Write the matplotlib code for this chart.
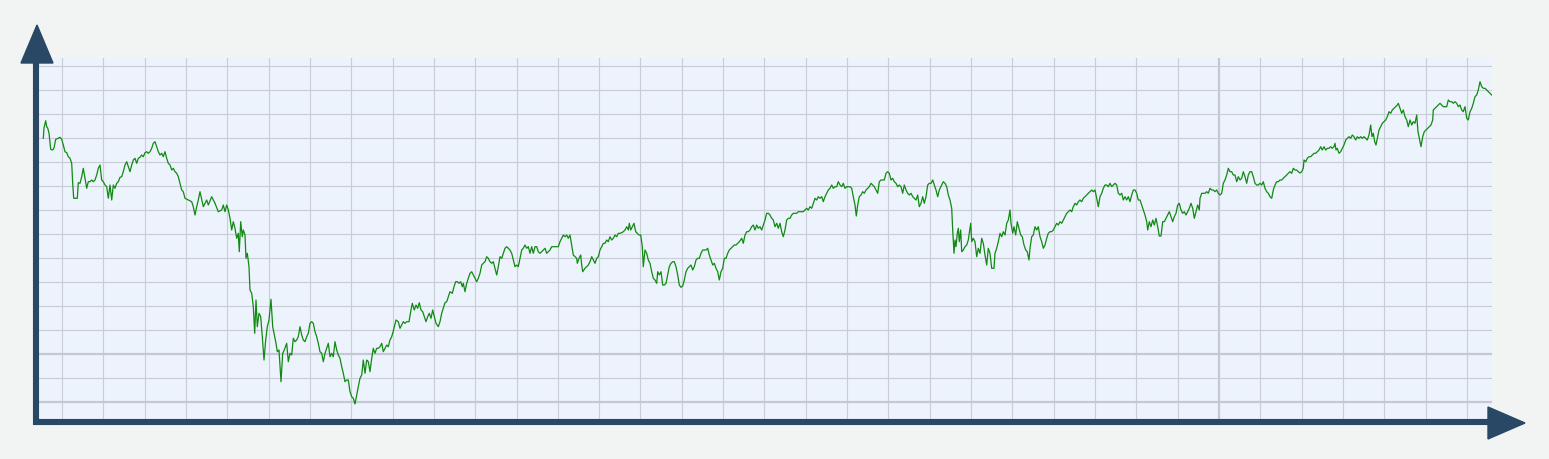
import matplotlib
matplotlib.use("Agg")
import matplotlib.pyplot as plt
from matplotlib.patches import Polygon

# time position of each sample along the chart
t = [
    43.3, 44.0, 45.7, 46.7, 47.7, 49.0, 50.7, 52.7, 54.0, 55.7, 58.3, 60.0, 61.7, 63.3, 65.0, 66.7,
    68.3, 70.0, 71.7, 72.7, 73.7, 76.0, 77.3, 78.3, 80.0, 81.7, 83.3, 85.0, 86.7, 88.3, 90.0, 91.7,
    93.3, 95.0, 96.7, 98.3, 100.0, 101.7, 103.3, 105.0, 106.7, 108.3, 110.0, 111.7, 113.3, 115.0,
    116.7, 118.3, 120.0, 121.7, 123.3, 125.0, 126.7, 128.3, 130.0, 131.7, 133.3, 135.0, 136.7,
    138.3, 140.0, 141.7, 143.3, 145.0, 146.7, 148.3, 150.0, 151.7, 153.3, 155.0, 156.7, 158.3,
    160.0, 161.7, 163.3, 165.0, 166.7, 168.3, 170.0, 171.7, 173.3, 175.0, 176.7, 178.3, 180.0,
    181.7, 183.3, 185.0, 188.3, 191.7, 193.3, 195.0, 196.7, 198.3, 200.0,
    203.3, 206.7, 208.3, 211.7, 215.0, 218.3, 221.7, 223.3, 225.0, 226.7, 228.3, 230.0, 231.7,
    233.3, 235.0, 236.7, 238.3, 239.3, 240.7, 242.3, 243.3, 245.0, 246.0, 247.3, 249.0, 250.0,
    251.7, 253.3, 254.7, 256.0, 257.3, 259.0, 260.7, 262.3, 264.0, 265.7, 267.3, 269.0, 271.0,
    272.7, 274.0, 276.0, 277.3, 279.0, 281.0, 282.7, 284.3, 286.7, 288.3, 290.0, 291.7, 293.3,
    295.0, 296.7, 298.3, 300.0, 301.7, 303.3, 305.0, 306.7, 308.3, 310.0, 311.7, 313.3, 315.0,
    316.7, 318.3, 320.0, 321.7, 323.3, 325.0, 326.7, 328.3, 330.0, 331.7, 333.3, 335.0, 336.7,
    338.3, 340.0, 341.7, 343.3, 345.0, 346.7, 348.3, 350.0, 351.7, 353.3, 355.0, 356.7, 358.3,
    360.0, 361.7, 363.3, 365.0, 366.7, 368.3, 370.0, 371.7, 373.3, 375.0, 376.7, 378.3, 380.0,
    381.7, 383.3, 385.0, 386.7, 388.3, 390.0, 391.7, 393.3,
    396.0, 398.3, 400.0, 401.7, 403.3, 405.0, 406.7, 409.0, 410.7, 412.3, 414.3, 416.0, 417.7,
    419.3, 421.0, 422.7, 424.3, 426.0, 427.7, 429.3, 431.0, 432.7, 434.3, 436.0, 438.3, 440.0,
    441.7, 443.3, 445.0, 446.7, 448.3, 450.0, 452.3, 454.0, 455.7, 457.3, 459.0, 460.7, 462.3,
    463.3, 465.0, 466.7, 468.3, 470.0, 471.7, 473.3, 475.0, 476.7, 478.3, 480.0, 481.7, 483.3,
    485.0, 486.7, 488.3, 490.0, 491.7, 493.3, 495.0, 496.7, 498.3, 500.0, 501.7, 503.3, 505.0,
    506.7, 508.3, 510.0, 511.7, 513.3, 515.0, 516.7, 518.3, 520.0, 521.7, 523.3, 525.0, 526.7,
    528.3, 530.0, 531.7, 533.3, 535.0, 536.7, 538.3, 540.0, 541.7, 543.3, 545.0, 546.7, 548.3,
    550.0, 551.7, 553.3, 556.7, 558.3, 560.0, 561.7, 563.3, 565.0, 566.7, 568.3, 570.0, 571.7,
    573.3, 575.0, 576.7, 577.3, 579.0, 580.7, 581.7, 582.7, 585.0, 586.7, 588.3, 590.0, 591.7,
    593.3, 595.0, 596.7, 598.3, 600.0, 601.7, 603.3, 605.0, 606.7, 608.3, 610.0, 611.7, 613.3,
    615.0, 616.7, 618.3, 620.0, 621.7, 623.3, 625.0, 626.7, 628.3, 629.3, 630.7, 632.3, 634.0,
    635.7, 637.3, 639.0, 640.7, 642.3, 643.3, 645.0, 646.7, 648.3, 650.0, 651.7, 653.3, 655.0,
    656.7, 657.7, 659.3, 661.0, 662.7, 664.3, 666.0, 667.7, 669.3, 671.0, 672.7, 674.3, 676.0,
    677.7, 679.3, 681.0, 682.7, 684.3, 686.0, 687.7, 689.3, 691.0, 692.7, 694.3, 696.0, 697.7,
    699.3, 701.0, 702.7, 704.3, 706.0, 707.7, 709.3, 711.0, 712.7, 714.3, 716.0, 717.7, 719.3,
    721.0, 722.7, 724.3, 726.0, 727.7, 729.3, 731.0, 732.7, 734.3, 736.0, 737.7, 739.3,
    741.7, 743.3, 745.0, 746.7, 748.3, 750.0, 751.7, 753.3, 755.0, 756.7, 758.3, 760.0, 761.7,
    763.3, 765.0, 766.7, 768.3, 770.0, 771.7, 773.3, 775.0, 776.7, 778.3, 780.0, 781.7, 783.3,
    785.0, 786.7, 788.3, 790.0, 791.7, 793.3, 795.0, 796.7, 798.3, 800.0, 803.3, 805.0, 806.7,
    808.3, 810.0, 811.7, 813.3, 815.0, 816.7, 818.3, 820.0, 821.7, 823.3, 825.0, 826.7, 828.3,
    830.0, 831.7, 833.3, 835.0, 836.7, 838.3, 840.0, 841.7, 843.3, 845.0, 846.7, 848.3, 850.0,
    851.7, 853.3, 855.0, 856.3, 857.7, 859.3, 861.0, 862.7, 864.3, 866.0, 867.7, 869.3, 871.0,
    872.7, 874.3, 876.0, 877.7, 879.3, 881.0, 882.7, 884.3, 886.0, 887.7, 889.3, 891.0, 892.7,
    894.3, 896.0, 897.7, 899.3, 901.0, 902.7, 904.3, 906.0, 907.7, 909.3, 911.0, 912.7, 914.3,
    916.0, 917.7, 919.3, 921.0, 922.7, 924.3, 926.0, 927.7, 929.3, 931.0, 932.7, 934.3, 936.0,
    937.7, 939.3,
    941.7, 943.3, 945.0, 946.7, 948.3, 950.0, 951.7, 952.7, 954.0, 955.0, 956.0, 957.3, 958.3,
    959.3, 960.7, 961.7, 963.3, 965.0, 966.7, 968.3, 969.3, 970.7, 971.7, 973.3, 975.0, 976.7,
    978.3, 980.0, 981.7, 983.3, 985.0, 986.7, 988.3, 990.0, 991.7, 994.0, 995.0, 996.7, 998.3,
    1000.0, 1001.7, 1003.3, 1005.0, 1006.7, 1008.3, 1010.0, 1011.0, 1012.7, 1014.0, 1015.7,
    1017.3, 1019.0, 1020.7, 1022.3, 1024.0, 1025.7, 1027.3, 1029.0, 1030.0, 1031.7, 1033.3,
    1035.0, 1036.7, 1038.3, 1040.0, 1041.7, 1043.3, 1045.0, 1046.7, 1048.3, 1050.0, 1051.7,
    1053.3, 1055.0, 1056.7, 1058.3, 1060.0, 1061.7, 1063.3, 1065.0, 1066.7, 1068.3, 1070.0,
    1071.7, 1073.3, 1075.0, 1076.7, 1078.3, 1080.0, 1081.7, 1083.3, 1085.0, 1086.7, 1088.3,
    1090.0, 1091.7, 1093.3, 1095.0, 1096.7, 1098.3, 1100.0, 1101.7, 1103.3, 1105.0, 1106.7,
    1108.3, 1110.0, 1111.7, 1113.3, 1115.0, 1116.7, 1118.3, 1120.0,
    1121.7, 1123.3, 1125.0, 1126.7, 1128.3, 1130.0, 1131.7, 1133.3, 1135.0, 1136.7, 1138.3,
    1140.0, 1141.7, 1143.3, 1145.0, 1146.7, 1147.7, 1149.3, 1151.0, 1152.7, 1154.3, 1156.0,
    1157.7, 1159.3, 1161.0, 1162.7, 1164.3, 1166.0, 1167.7, 1169.3, 1171.0, 1172.7, 1174.3,
    1176.0, 1177.7, 1179.3, 1181.0, 1182.7, 1184.3, 1186.0, 1187.7, 1189.3, 1191.0, 1192.7,
    1194.3, 1196.0, 1197.7, 1199.3, 1200.0, 1201.7, 1203.3, 1205.0, 1206.7, 1208.3, 1210.0,
    1211.7, 1213.3, 1215.0, 1216.7, 1218.3, 1220.0, 1221.7, 1223.3, 1225.0, 1226.7, 1228.3,
    1230.0, 1231.7, 1233.3, 1235.0, 1236.7, 1238.3, 1240.0, 1241.7, 1243.3, 1245.0, 1246.7,
    1248.3, 1250.0, 1251.7, 1253.3, 1255.0, 1256.7, 1258.3, 1260.0, 1261.7, 1263.3, 1265.0,
    1266.7, 1268.3, 1270.0, 1271.7, 1273.3, 1275.0, 1276.7, 1278.3, 1280.0, 1281.7, 1283.3,
    1285.0, 1286.7, 1288.3, 1290.0, 1291.7, 1293.3, 1295.0, 1296.7, 1298.3, 1300.0, 1301.7,
    1303.3,
    1304.0, 1305.7, 1307.3, 1309.0, 1310.7, 1312.3, 1314.0, 1315.7, 1317.3, 1319.0, 1320.7,
    1322.3, 1324.0, 1325.7, 1327.3, 1329.0, 1330.7, 1332.3, 1334.0, 1335.0, 1336.0, 1337.3,
    1339.0, 1340.7, 1342.3, 1344.0, 1345.7, 1347.3, 1349.0, 1350.7, 1352.3, 1354.0, 1355.7,
    1357.3, 1359.0, 1360.7, 1362.3, 1364.0, 1365.7, 1367.3, 1369.0, 1370.7, 1372.0, 1373.3,
    1374.7, 1376.0, 1377.3, 1379.0, 1380.7, 1382.3, 1384.0, 1385.7, 1387.3, 1389.0, 1390.7,
    1392.3, 1394.0, 1395.7, 1397.3, 1398.3, 1400.0, 1401.7, 1403.3, 1405.0, 1406.7, 1408.3,
    1410.0, 1411.7, 1413.3, 1415.0, 1416.7, 1418.0, 1419.3, 1421.0, 1422.7, 1424.3, 1426.0,
    1427.7, 1429.3, 1431.0, 1432.7, 1433.3, 1435.0, 1436.7, 1438.3, 1440.0, 1441.7, 1443.3,
    1445.0, 1446.7, 1448.3, 1450.0, 1451.7, 1453.3, 1455.0, 1456.7, 1458.3, 1460.0, 1461.7,
    1463.3, 1465.0, 1466.7, 1468.3, 1470.0, 1471.7, 1473.3, 1475.0, 1476.7, 1478.3, 1480.0,
    1481.7, 1483.3, 1485.0, 1486.7, 1488.3, 1490.0, 1491.7,
]

# series level at each sample (24 units per grid row)
level = [
    263.7, 274.0, 281.3, 275.3, 274.0, 269.0, 252.7, 252.0, 254.0, 262.7, 263.7, 264.7, 262.7, 257.0, 250.3, 249.3,
    245.3, 243.7, 238.7, 218.7, 203.7, 203.7, 203.7, 219.3, 218.7, 225.3, 233.7, 223.7, 213.7, 220.3, 220.3, 222.0,
    220.3, 222.0, 227.0, 233.7, 237.0, 222.0, 220.3, 217.0, 215.3, 203.7, 217.0, 202.0, 217.0, 213.7,
    218.7, 220.3, 224.7, 225.3, 230.3, 237.0, 240.3, 235.3, 230.3, 237.0, 242.0, 243.7, 238.7,
    243.7, 244.7, 247.0, 245.3, 249.3, 250.3, 248.7, 250.3, 253.7, 258.7, 260.3, 255.3, 250.3,
    247.0, 248.7, 245.3, 250.3, 243.7, 238.7, 237.0, 232.0, 233.7, 230.3, 228.7, 225.3, 218.7,
    212.0, 210.3, 203.7, 202.0, 200.3, 195.3, 187.0, 195.3, 202.0, 210.3,
    195.3, 202.0, 197.0, 205.3, 198.7, 190.3, 192.0, 197.0, 190.3, 197.0, 192.0, 183.7, 172.0,
    180.3, 173.7, 163.7, 168.7, 150.3, 180.3, 165.3, 172.0, 167.0, 143.7, 148.7, 135.3, 112.0,
    108.7, 95.3, 68.7, 102.0, 75.3, 88.7, 85.3, 65.3, 42.0, 62.0, 75.3, 82.0, 102.7,
    75.3, 68.7, 58.7, 50.3, 52.0, 20.3, 48.7, 52.0, 58.7, 40.3, 48.7, 47.0, 63.7,
    60.3, 62.0, 65.3, 75.3, 67.0, 62.0, 60.3, 65.3, 68.7, 78.7, 80.3, 78.7, 70.3,
    65.3, 58.7, 50.3, 48.7, 40.3, 48.7, 53.7, 58.7, 45.3, 48.7, 45.3, 60.3, 52.0,
    47.0, 43.7, 35.3, 28.7, 20.3, 22.0, 22.0, 10.3, 5.3, 3.7, -2.0, 7.0, 15.3,
    23.7, 27.0, 42.0, 28.7, 42.0, 40.3, 30.3, 43.7, 53.7, 48.7, 53.7, 53.7, 55.3,
    58.7, 50.3, 53.7, 57.0, 55.3, 62.0, 65.3, 71.0,
    82.0, 80.3, 73.7, 77.0, 80.3, 78.7, 80.3, 80.3, 90.3, 98.7, 92.0, 97.0, 93.7,
    99.3, 92.0, 90.3, 85.3, 80.3, 85.3, 88.7, 83.7, 92.0, 85.3, 78.7, 75.3, 80.3,
    88.7, 93.7, 99.3, 100.3, 105.3, 110.3, 108.7, 115.3, 120.3, 120.3, 118.7, 120.3, 115.3,
    118.7, 110.3, 118.7, 123.7, 128.7, 130.3, 127.0, 123.7, 120.3, 123.7, 128.7, 137.0, 138.7,
    140.3, 145.3, 143.7, 140.3, 138.7, 140.3, 133.7, 127.0, 135.3, 145.3, 143.7, 148.7, 153.7,
    155.3, 153.7, 152.0, 148.7, 142.0, 135.3, 137.0, 135.3, 143.7, 152.0, 153.7, 157.0, 153.7,
    155.3, 148.7, 155.3, 148.7, 155.3, 155.3, 150.3, 148.7, 150.3, 152.0, 153.7, 148.7, 150.3,
    152.0, 155.3, 155.3, 155.3, 155.3, 160.3, 163.7, 167.0, 165.3, 167.0, 163.7, 167.0, 157.0,
    147.0, 145.3, 143.7, 138.7, 143.7, 147.0, 137.0, 130.3, 133.7, 135.3, 137.0, 140.3, 145.3,
    142.0, 138.7, 143.7, 145.3, 152.0, 155.3, 158.7, 158.7, 162.0, 160.3, 165.3, 162.0, 163.7,
    167.0, 165.3, 168.7, 168.7, 169.3, 170.3, 172.0, 175.3, 172.0, 178.7, 172.0, 175.3, 178.7,
    170.3, 168.7, 167.0, 167.0, 155.3, 135.3, 152.0, 148.7, 142.0, 138.7, 130.3, 123.7, 122.0,
    118.7, 130.3, 127.0, 130.3, 117.0, 117.0, 118.7, 127.0, 135.3, 138.7, 140.3, 140.3, 135.3,
    127.0, 117.0, 114.7, 116.0, 122.0, 130.3, 133.7, 135.3, 137.0, 132.0, 135.3, 142.0, 143.7,
    143.7, 148.7, 152.0, 152.0, 152.0, 153.7, 147.0, 142.0, 137.0, 138.7, 133.7, 130.3, 122.0,
    130.3, 133.7, 143.7, 143.7, 148.7, 152.0, 153.7, 155.3, 157.0, 157.0, 158.7, 160.3,
    163.7, 158.7, 167.0, 170.3, 170.3, 172.0, 175.3, 177.0, 172.0, 177.0, 173.7, 175.3, 172.0,
    177.0, 182.0, 188.7, 188.7, 187.0, 183.7, 182.0, 175.3, 178.7, 173.7, 178.7, 170.3, 165.3,
    172.0, 182.0, 183.7, 183.7, 187.0, 188.7, 188.7, 188.7, 190.3, 190.3, 190.3, 192.0, 193.7,
    192.0, 195.3, 193.7, 198.7, 203.7, 202.0, 205.3, 203.7, 205.3, 200.3, 205.3, 208.7, 212.0,
    213.7, 217.0, 213.7, 215.3, 215.3, 220.3, 217.0, 215.3, 218.7, 213.7, 215.3, 215.3, 215.3,
    213.7, 205.3, 197.0, 186.0, 197.0, 205.3, 207.0, 210.3, 208.7, 212.0, 213.7, 215.3, 218.7,
    217.0, 215.3, 212.0, 208.7, 220.3, 222.0, 222.0, 222.0, 228.7, 230.3, 228.7, 222.0, 223.7,
    220.3, 218.7, 215.3, 217.0, 215.3, 208.7, 217.0, 212.0, 208.7, 207.0, 208.7, 205.3, 203.7,
    202.0, 207.0, 195.3, 198.7, 205.3, 198.7, 205.3, 217.0, 218.7, 218.7, 222.0, 217.0, 212.0,
    205.3, 212.0,
    217.0, 220.3, 218.7, 215.3, 207.0, 202.0, 193.7, 172.0, 148.7, 162.0, 155.3, 168.7, 173.7,
    160.3, 172.0, 150.3, 152.0, 155.3, 157.0, 162.0, 168.7, 178.7, 160.3, 163.7, 160.3, 145.3,
    153.7, 148.7, 163.7, 158.7, 147.0, 137.0, 153.7, 148.7, 133.7, 133.7, 148.7, 153.7, 160.3,
    168.7, 165.3, 170.3, 167.0, 178.7, 182.0, 192.0, 178.7, 168.7, 175.3, 167.0,
    180.3, 173.7, 167.0, 165.3, 157.0, 152.0, 150.3, 142.0, 153.7, 165.3, 167.0,
    175.3, 172.0, 175.3, 165.3, 160.3, 153.7, 157.0, 163.7, 168.7, 170.3, 170.3,
    172.0, 175.3, 178.7, 177.0, 180.3, 178.7, 182.0, 185.3, 188.7, 190.3, 192.0,
    190.3, 195.3, 198.7, 197.0, 200.3, 202.0, 200.3, 203.7, 205.3, 207.0, 208.7,
    210.3, 212.0, 210.3, 212.0, 203.7, 195.3, 205.3, 208.7, 213.7, 217.0, 217.0,
    215.3, 218.7, 215.3, 217.0, 218.7, 217.0, 208.7, 207.0,
    208.7, 202.0, 205.3, 202.0, 205.3, 200.3, 207.0, 212.0, 212.0, 208.7, 202.0,
    202.0, 197.0, 192.0, 187.0, 180.3, 172.0, 180.3, 175.3, 182.0, 177.0, 183.7,
    175.3, 166.0, 166.0, 180.3, 180.3, 183.7, 187.0, 190.3, 185.3, 180.3, 185.3,
    188.7, 197.0, 198.7, 192.0, 188.7, 190.3, 187.0, 190.3, 193.7, 198.7, 193.7,
    183.7, 190.3, 197.0, 192.0, 203.7, 208.7, 208.7, 208.7, 210.3, 208.7, 213.7,
    212.0, 212.0, 210.3, 212.0, 208.7, 207.0, 208.7, 218.7, 222.0, 227.0, 233.7,
    230.3, 230.3, 227.0, 227.0, 220.3, 225.3, 222.0, 223.7, 230.3, 225.3, 218.7,
    227.0, 230.3, 230.3, 225.3, 218.7, 217.0, 217.0, 218.7, 217.0, 220.3, 213.7,
    210.3, 208.7, 205.3, 203.7, 212.0, 217.0, 220.3, 220.3, 222.0, 222.0, 223.7,
    225.3, 227.0, 228.7, 230.3, 228.7, 233.7, 232.0, 232.0, 230.3, 229.0, 230.3,
    233.7,
    242.0, 240.3, 243.7, 245.3, 245.3, 247.0, 248.7, 248.7, 250.3, 252.0, 255.3,
    252.0, 255.3, 252.0, 253.7, 253.7, 255.3, 253.7, 255.3, 258.7, 252.0, 253.7,
    248.7, 250.3, 253.7, 257.0, 262.0, 263.7, 265.3, 263.7, 267.0, 265.3, 262.0,
    265.3, 263.7, 265.3, 263.7, 265.3, 263.7, 262.0, 267.0, 277.0, 265.3, 268.7,
    260.3, 257.0, 263.7, 272.0, 275.3, 278.7, 280.3, 282.0, 285.3, 290.3, 288.7,
    292.0, 293.7, 295.3, 297.0, 298.7, 293.7, 288.7, 292.0, 285.3, 282.0, 275.3,
    282.0, 277.0, 280.3, 278.7, 287.0, 270.3, 263.7, 255.3, 265.3, 270.3, 272.0,
    273.7, 275.3, 277.0, 282.0, 292.0, 293.7, 295.3, 297.0, 298.7, 297.0, 295.3,
    295.3, 295.3, 302.0, 300.3, 300.3, 298.7, 300.3, 298.7, 295.3, 297.0, 292.0,
    290.3, 295.3, 283.7, 282.0, 290.3, 293.7, 298.7, 305.3, 307.0, 312.0, 320.3,
    315.3, 313.7, 313.7, 312.0, 310.3, 308.7, 307.0,
]

W, H = 1549, 459


def px(x, y):
    # pixel position (from top-left) to figure fraction
    return (x / W, 1 - y / H)


fig = plt.figure(figsize=(W / 100, H / 100), dpi=100, facecolor="#f2f4f3")
ax = fig.add_axes([36 / W, (H - 422) / H, (1492 - 36) / W, (422 - 58) / H])
ax.set_facecolor("#ecf3fd")
ax.set_xlim(36, 1492)
ax.set_ylim(-20, 344)

# grid
for i in range(35):
    thick = i == 28
    ax.axvline(62 + i * 41.32, color="#c3c8d3" if thick else "#c9cdd7",
               lw=1.6 if thick else 0.8, zorder=1)
for i in range(15):
    thick = i in (0, 2)
    ax.axhline(i * 24, color="#c3c8d3" if thick else "#c9cdd7",
               lw=1.6 if thick else 0.8, zorder=1)

ax.plot(t, level, color="#108a10", lw=0.9, zorder=3)

for s in ax.spines.values():
    s.set_visible(False)
ax.set_xticks([])
ax.set_yticks([])

# axis lines with arrow heads
axis_color = "#284866"
fig.add_artist(plt.Line2D(*zip(px(36, 60), px(36, 425)), color=axis_color,
                          lw=4.4, solid_capstyle="butt"))
fig.add_artist(plt.Line2D(*zip(px(33, 422), px(1490, 422)), color=axis_color,
                          lw=4.4, solid_capstyle="butt"))
fig.add_artist(Polygon([px(21, 63), px(53, 63), px(37, 25)], closed=True,
                       color=axis_color, transform=fig.transFigure))
fig.add_artist(Polygon([px(1488, 407), px(1488, 439), px(1525, 423)], closed=True,
                       color=axis_color, transform=fig.transFigure))

fig.savefig("out.png", dpi=100, facecolor=fig.get_facecolor())
